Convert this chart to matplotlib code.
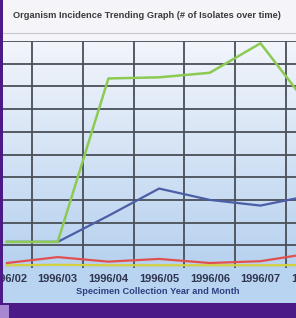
import matplotlib.pyplot as plt
import numpy as np
from matplotlib.lines import Line2D
from matplotlib.patches import Rectangle

months = ["1996/02", "1996/03", "1996/04", "1996/05", "1996/06", "1996/07", "1996/08"]
green = [1.15, 1.15, 8.35, 8.4, 8.6, 9.9, 7.0]
blue = [1.15, 1.15, 2.3, 3.5, 3.0, 2.75, 3.2]
red = [0.22, 0.48, 0.28, 0.4, 0.22, 0.3, 0.65]
yellow = [0.12, 0.14, 0.12, 0.12, 0.12, 0.12, 0.13]

W, H = 296, 318
fig = plt.figure(figsize=(W / 100, H / 100), dpi=100)
fig.patch.set_facecolor("#b9d4f0")

# title strip and bottom band
fig.add_artist(Rectangle((0, 1 - 41 / H), 1, 41 / H, transform=fig.transFigure,
                         facecolor="#f5f5f9", edgecolor="none", zorder=0))
fig.add_artist(Line2D([0, 1], [1 - 33 / H, 1 - 33 / H], transform=fig.transFigure,
                      color="#c8c8d0", lw=0.8))
fig.add_artist(Rectangle((0, 0), 1, 15 / H, transform=fig.transFigure,
                         facecolor="#4b1a86", edgecolor="none", zorder=5))
fig.add_artist(Rectangle((0, 0), 9 / W, 13 / H, transform=fig.transFigure,
                         facecolor="#a888d0", edgecolor="none", zorder=6))
fig.add_artist(Rectangle((0, 15 / H), 3 / W, 1 - 15 / H, transform=fig.transFigure,
                         facecolor="#4b1a86", edgecolor="none", zorder=6))

fig.text(147 / W, 1 - 16 / H, "Organism Incidence Trending Graph (# of Isolates over time)",
         ha="center", va="center", fontsize=6.7, fontweight="bold",
         family="Liberation Sans", color="#3a3a3a")

# axes: category i sits at pixel 7 + 50.7*i, y=0 at pixel 268, y=10 at pixel 41
step = 50.7
ax_left, ax_right = 3, 345
ax = fig.add_axes([ax_left / W, (H - 268) / H, (ax_right - ax_left) / W, (268 - 41) / H])
ax.set_xlim((ax_left - 7) / step, (ax_right - 7) / step)
ax.set_ylim(0, 10)

grad = np.linspace(0, 1, 256).reshape(-1, 1)
ax.imshow(grad, extent=[*ax.get_xlim(), 0, 10], aspect="auto", origin="upper",
          cmap=plt.matplotlib.colors.LinearSegmentedColormap.from_list(
              "bg", ["#f2f5fb", "#b6d1ef"]), zorder=0)

x = np.arange(len(months))
for v in np.arange(0.5, 7, 1):
    ax.axvline(v, color="#4a4f58", lw=1.3, zorder=1)
for v in range(1, 11):
    ax.axhline(v, color="#4a4f58", lw=1.3, zorder=1)

ax.plot(x, yellow, color="#d4d040", lw=1.6, zorder=3)
ax.plot(x, red, color="#e05050", lw=1.6, zorder=3)
ax.plot(x, blue, color="#4b5ea6", lw=1.6, zorder=3)
ax.plot(x, green, color="#8cca52", lw=1.8, zorder=4)

ax.set_xticks(x)
ax.set_xticklabels(months, fontsize=8, fontweight="bold", family="Liberation Sans",
                   color="#2e3550")
ax.tick_params(length=0, pad=4)
ax.set_yticks([])
for s in ax.spines.values():
    s.set_visible(False)

fig.text(158 / W, 1 - 292 / H, "Specimen Collection Year and Month", ha="center",
         va="center", fontsize=6.7, fontweight="bold", family="Liberation Sans",
         color="#2f3f80")

fig.savefig("out.png", dpi=100, facecolor=fig.get_facecolor())
